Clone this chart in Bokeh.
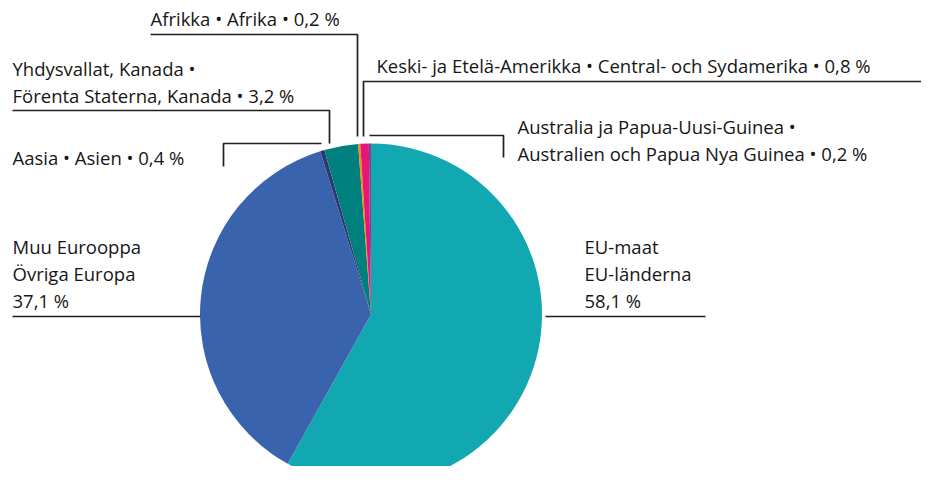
import math
from bokeh.plotting import figure
from bokeh.models import Range1d, ColumnDataSource
from bokeh.core.properties import value
from bokeh.embed import file_html
from bokeh.resources import INLINE

# ---- data ----
names_fi = ["EU-maat", "Muu Eurooppa", "Aasia", "Yhdysvallat, Kanada", "Afrikka",
            "Keski- ja Etelä-Amerikka", "Australia ja Papua-Uusi-Guinea"]
names_sv = ["EU-länderna", "Övriga Europa", "Asien", "Förenta Staterna, Kanada", "Afrika",
            "Central- och Sydamerika", "Australien och Papua Nya Guinea"]
shares = [58.1, 37.1, 0.4, 3.2, 0.2, 0.8, 0.2]
colors = ["#12a8b1", "#3963ad", "#2f3674", "#007f7f", "#f29100", "#e6157a", "#8b3c92"]

W, H = 921, 466
OFF = 0
def Y(y):
    return (482 - y)

p = figure(width=W, height=H, output_backend="svg", toolbar_location=None,
           x_range=Range1d(OFF, OFF + W), y_range=Range1d(Y(OFF + H), Y(OFF)),
           min_border=0, outline_line_color=None)
p.axis.visible = False
p.grid.visible = False
p.background_fill_color = "white"

# ---- pie ----
cx, cy, r = 370.5, Y(314), 171
total = sum(shares)
starts, ends = [], []
acc = 0.0
for s in shares:
    starts.append(math.pi / 2 - 2 * math.pi * acc / total)
    acc += s
    ends.append(math.pi / 2 - 2 * math.pi * acc / total)
src = ColumnDataSource(dict(x=[cx] * len(shares), y=[cy] * len(shares),
                            start=starts, end=ends, color=colors))
p.wedge(x="x", y="y", radius=r, start_angle="start", end_angle="end",
        direction="clock", fill_color="color", line_color=None, source=src)

# ---- leader lines (layout) ----
line_col = "#1f1f1f"
leaders = [
    [(150, 34), (357, 34), (357, 136)],          # Afrikka
    [(937, 81), (363, 81), (363, 136)],          # Keski
    [(369, 135), (503, 135), (503, 157)],        # Australia
    [(12, 110), (329, 110), (329, 143)],         # Yhdysvallat
    [(223, 166), (223, 143), (321, 143)],        # Aasia
    [(12, 316), (200, 316)],                     # Muu Eurooppa
    [(545, 316), (705, 316)],                    # EU
]
for pts in leaders:
    p.line([a for a, b in pts], [Y(b) for a, b in pts], line_color=line_col, line_width=1.7)

def pct(v):
    return ("%.1f" % v).replace(".", ",") + " %"

texts = [
    (150, 18, names_fi[4] + " • " + names_sv[4] + " • " + pct(shares[4])),
    (376, 65, names_fi[5] + " • " + names_sv[5] + " • " + pct(shares[5])),
    (12, 68, names_fi[3] + " •"),
    (12, 95, names_sv[3] + " • " + pct(shares[3])),
    (517, 126, names_fi[6] + " •"),
    (517, 153, names_sv[6] + " • " + pct(shares[6])),
    (12, 157, names_fi[2] + " • " + names_sv[2] + " • " + pct(shares[2])),
    (12, 246, names_fi[1]),
    (12, 273, names_sv[1]),
    (12, 300, pct(shares[1])),
    (584, 246, names_fi[0]),
    (584, 273, names_sv[0]),
    (584, 300, pct(shares[0])),
]
p.text(x=[t[0] for t in texts], y=[Y(t[1]) for t in texts], text=[t[2] for t in texts],
       text_font=value("Open Sans"), text_font_size="18.5px", text_color="#161616",
       text_baseline="middle", text_align="left")

open("out.html", "w").write(file_html(p, INLINE))
